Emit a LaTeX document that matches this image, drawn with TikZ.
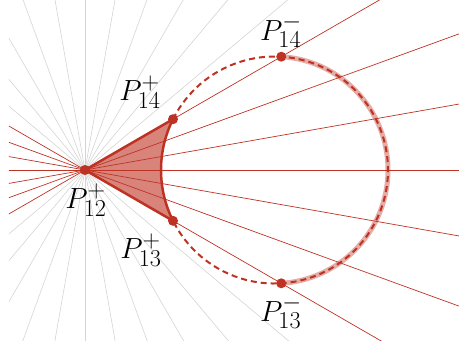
\documentclass[tikz,border=0pt]{standalone}
\usetikzlibrary{calc}
\definecolor{myred}{RGB}{190,50,35}
\definecolor{raygray}{RGB}{212,212,212}
\newcommand{\biglbl}[1]{\scalebox{1.17}{$#1$}}
\begin{document}
\begin{tikzpicture}[x=1pt,y=1pt,
  grayray/.style={raygray, line width=0.6pt},
  redray/.style={myred, line width=0.7pt},
  thickedge/.style={myred, line width=2.5pt, line join=round},
  dashedarc/.style={myred, line width=2pt, dash pattern=on 6pt off 4pt},
  lightarc/.style={myred, opacity=0.4, line width=5pt},
  dot/.style={circle, fill=myred, inner sep=0pt, minimum size=10pt},
  lbl/.style={font=\Huge, inner sep=0pt}]
\useasboundingbox (-85,-175) rectangle (374,170);
\coordinate (P12) at (0,0);
\coordinate (C) at (189.5,0);
\coordinate (P14p) at (88.01,50.81);
\coordinate (P13p) at (88.01,-50.81);
\coordinate (P14m) at (196.24,113.30);
\coordinate (P13m) at (196.24,-113.30);
\begin{scope}
  \clip (-76,-171) rectangle (400,180);
  \foreach \a in {40,50,...,140}
    \draw[grayray] ($(P12)+(\a:600)$) -- ($(P12)+(\a+180:600)$);
  \foreach \a in {-30,-20,...,30}
    \draw[redray] ($(P12)+(\a:600)$) -- ($(P12)+(\a+180:600)$);
\end{scope}
\fill[myred, fill opacity=0.6] (P12) -- (P14p) arc[start angle=153.4, end angle=206.6, radius=113.5] -- cycle;
\draw[lightarc] (P14m) arc[start angle=86.6, end angle=-86.6, radius=113.5];
\draw[dashedarc] (P14p) arc[start angle=153.4, end angle=-153.4, radius=113.5];
\draw[thickedge] (P14p) -- (P12) -- (P13p);
\draw[thickedge] (P14p) arc[start angle=153.4, end angle=206.6, radius=113.5];
\node[dot] (d12) at (P12) {};
\node[dot] (d14p) at (P14p) {};
\node[dot] (d13p) at (P13p) {};
\node[dot] (d14m) at (P14m) {};
\node[dot] (d13m) at (P13m) {};
\node[lbl] (l14p) at (55,78) {\biglbl{P_{14}^+}};
\node[lbl] (l14m) at (196,139) {\biglbl{P_{14}^-}};
\node[lbl] (l12p) at (1,-30) {\biglbl{P_{12}^+}};
\node[lbl] (l13p) at (56,-80) {\biglbl{P_{13}^+}};
\node[lbl] (l13m) at (196,-142) {\biglbl{P_{13}^-}};
\end{tikzpicture}
\end{document}
